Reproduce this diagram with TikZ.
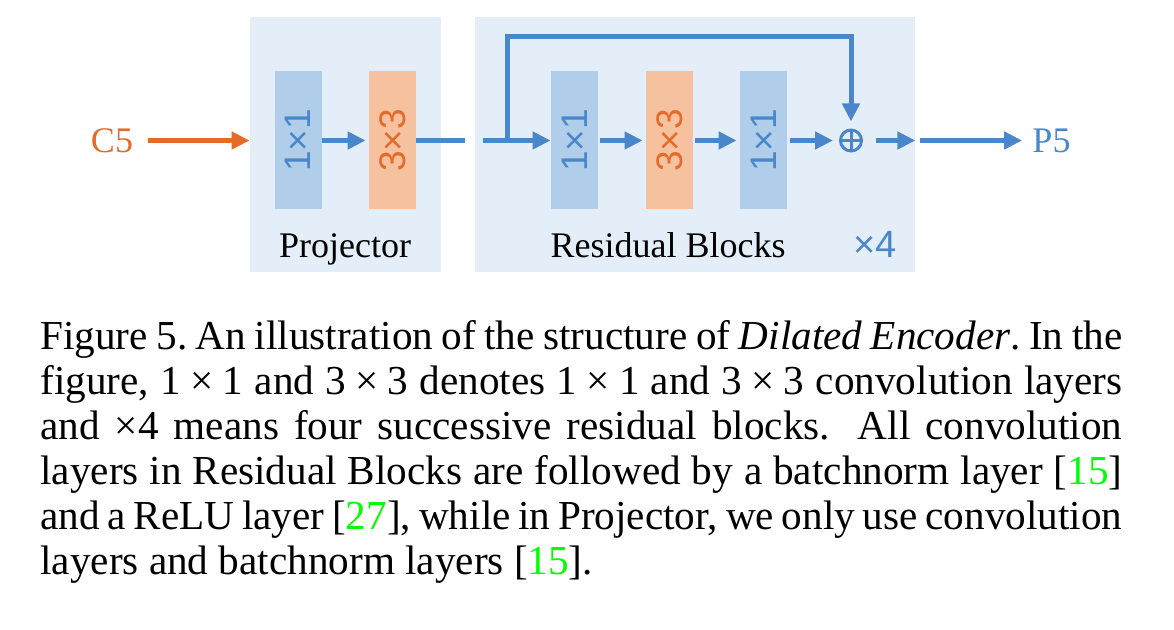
\documentclass[tikz,border=0pt]{standalone}
\usepackage{fontspec}
\usepackage{graphicx}
\setmainfont{Liberation Serif}
\newfontfamily\labsans{Liberation Sans}
\usetikzlibrary{arrows.meta}
\definecolor{bgblue}{HTML}{E4EEF8}
\definecolor{boxblue}{HTML}{B0CEEA}
\definecolor{boxorange}{HTML}{F5C19F}
\definecolor{ablue}{HTML}{4A87CA}
\definecolor{corange}{HTML}{E46C2A}
\definecolor{citegreen}{HTML}{00FF00}
\newcommand{\tmx}{\kern0.222em×\kern0.222em}
\newcommand{\citeg}[1]{[\textcolor{citegreen}{#1}]}
\tikzset{
  bgpanel/.style={fill=bgblue, draw=none, inner sep=0pt, minimum height=127.5pt},
  layerb/.style={fill=boxblue, draw=none, inner sep=0pt, minimum width=23.5pt, minimum height=69pt,
    text=ablue, font=\labsans\fontsize{18.5pt}{20pt}\selectfont},
  layero/.style={layerb, fill=boxorange, text=corange},
  pluscirc/.style={circle, draw=ablue, line width=1.5pt, minimum size=10.5pt, inner sep=0pt,
    path picture={\draw[ablue, line width=1.5pt]
      (path picture bounding box.north) -- (path picture bounding box.south)
      (path picture bounding box.west) -- (path picture bounding box.east);}},
  serlab/.style={inner sep=0pt, font=\fontsize{18pt}{20pt}\selectfont},
  barrow/.style={draw=ablue, line width=2.5pt, -{Triangle[length=9pt,width=8.5pt]}},
  oarrow/.style={barrow, draw=corange},
  bline/.style={draw=ablue, line width=2.5pt},
}
\begin{document}
\begin{tikzpicture}[x=0.5pt,y=-0.5pt]
\useasboundingbox (0,0) rectangle (1174,630);
\fill[white] (0,0) rectangle (1174,630);
% panels
\node[bgpanel, minimum width=95.5pt] (projbg) at (345.5,144.5) {};
\node[bgpanel, minimum width=220pt] (resbg) at (695,144.5) {};
% layers
\node[layerb] (p1) at (298,140.5) {\rotatebox{90}{1×1}};
\node[layero] (p2) at (392.5,140.5) {\rotatebox{90}{3×3}};
\node[layerb] (r1) at (574.5,140.5) {\rotatebox{90}{1×1}};
\node[layero] (r2) at (669.5,140.5) {\rotatebox{90}{3×3}};
\node[layerb] (r3) at (763.5,140.5) {\rotatebox{90}{1×1}};
\node[pluscirc] (plus) at (851,140.5) {};
% labels
\node[serlab, text=corange, anchor=base] (c5) at (112,153) {C5};
\node[serlab, text=ablue, anchor=base] (p5) at (1051.5,153) {P5};
\node[serlab, anchor=base] (projlab) at (345,257.5) {Projector};
\node[serlab, anchor=base] (reslab) at (668,257.5) {Residual Blocks};
\node[inner sep=0pt, anchor=base, text=ablue, font=\labsans\fontsize{19pt}{21pt}\selectfont] (times4) at (875,257.5) {×4};
% connectors
\coordinate (pout) at (465,140.5);
\coordinate (rin) at (483,140.5);
\coordinate (split) at (507,140.5);
\coordinate (skipy) at (507,37);
\draw[oarrow] ([xshift=7.5pt]c5.east |- p1) -- (projbg.west |- p1);
\draw[barrow, shorten >=1.5pt] (p1) -- (p2);
\draw[bline] (p2) -- (pout);
\draw[barrow] (rin) -- (r1);
\draw[barrow, shorten >=3.5pt] (split) -- (skipy) -| (plus);
\draw[barrow, shorten <=1pt, shorten >=1.5pt] (r1) -- (r2);
\draw[barrow, shorten <=1pt, shorten >=1.5pt] (r2) -- (r3);
\draw[barrow, shorten <=1.5pt, shorten >=3pt] (r3) -- (plus);
\draw[barrow] ([xshift=6.5pt]plus.east) -- (resbg.east |- plus);
\draw[barrow] ([xshift=2.5pt]resbg.east |- plus) -- ([xshift=-5pt]p5.west |- plus);
% caption
\node[anchor=base west, text width=541pt, align=justify, inner sep=0pt,
  font=\fontsize{20.6pt}{22.5pt}\selectfont] (caption) at (40,350)
{Figure 5.\ An illustration of the structure of \textit{Dilated Encoder}.\ In the\linebreak
figure, 1\tmx 1 and 3\tmx 3 denotes 1\tmx 1 and 3\tmx 3 convolution layers\linebreak
and ×4 means four successive residual blocks. All convolution\linebreak
layers in Residual Blocks are followed by a batchnorm layer \citeg{15}\linebreak
and a ReLU layer \citeg{27}, while in Projector, we only use convolution\linebreak
layers and batchnorm layers \citeg{15}.};
\end{tikzpicture}
\end{document}
